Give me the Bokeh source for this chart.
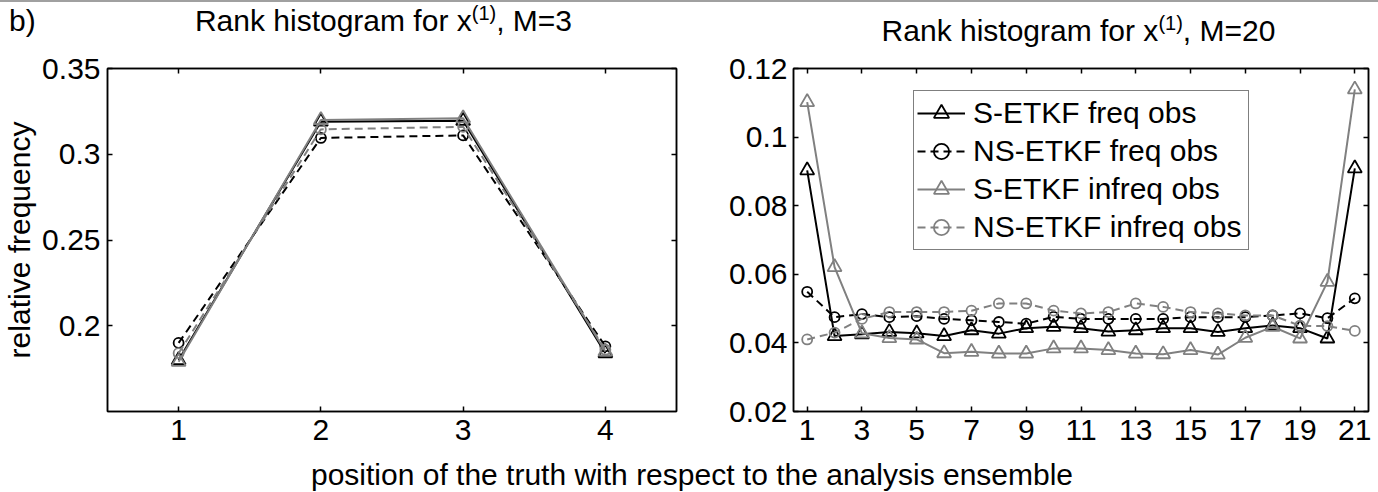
from bokeh.plotting import figure
from bokeh.models import Range1d, FixedTicker, LinearAxis, Div
from bokeh.layouts import column, row
from bokeh.embed import file_html
from bokeh.resources import INLINE

# ---------------- data ----------------
x_m3 = [1, 2, 3, 4]
m3_s_freq = [0.180, 0.319, 0.3195, 0.184]
m3_ns_freq = [0.190, 0.3095, 0.311, 0.188]
m3_s_infreq = [0.179, 0.320, 0.321, 0.185]
m3_ns_infreq = [0.184, 0.3145, 0.316, 0.186]

x_m20 = list(range(1, 22))
m20_s_freq = [0.0903, 0.0420, 0.0425, 0.0432, 0.0428, 0.0420, 0.0437, 0.0427, 0.0443, 0.0447, 0.0443,
              0.0433, 0.0437, 0.0443, 0.0443, 0.0432, 0.0443, 0.0451, 0.0443, 0.0413, 0.0909]
m20_ns_freq = [0.0549, 0.0475, 0.0484, 0.0475, 0.0478, 0.0470, 0.0466, 0.0461, 0.0456, 0.0476, 0.0470,
               0.0470, 0.0470, 0.0470, 0.0475, 0.0475, 0.0475, 0.0480, 0.0486, 0.0472, 0.0530]
m20_s_infreq = [0.1102, 0.0621, 0.0428, 0.0414, 0.0410, 0.0370, 0.0374, 0.0369, 0.0369, 0.0384, 0.0384,
                0.0379, 0.0369, 0.0367, 0.0379, 0.0366, 0.0415, 0.0447, 0.0413, 0.0578, 0.1139]
m20_ns_infreq = [0.0410, 0.0430, 0.0470, 0.0490, 0.0490, 0.0490, 0.0494, 0.0515, 0.0515, 0.0494, 0.0486,
                 0.0490, 0.0515, 0.0505, 0.0490, 0.0486, 0.0480, 0.0480, 0.0450, 0.0449, 0.0435]

series_labels = ["S-ETKF freq obs", "NS-ETKF freq obs", "S-ETKF infreq obs", "NS-ETKF infreq obs"]

m3_xticks = [1, 2, 3, 4]
m3_yticks = [0.2, 0.25, 0.3, 0.35]
m3_ytick_labels = ["0.2", "0.25", "0.3", "0.35"]
m20_xticks = [1, 3, 5, 7, 9, 11, 13, 15, 17, 19, 21]
m20_yticks = [0.02, 0.04, 0.06, 0.08, 0.1, 0.12]
m20_ytick_labels = ["0.02", "0.04", "0.06", "0.08", "0.1", "0.12"]

panel_tag = "b)"
title_main = "Rank histogram for x"
title_sup = "(1)"
title_tail_m3 = ", M=3"
title_tail_m20 = ", M=20"
xlabel_text = "position of the truth with respect to the analysis ensemble"
ylabel_text = "relative frequency"

# ---------------- style ----------------
FONT = "Liberation Sans"
FS = "30px"
BLACK = "#000000"
GRAY = "#808080"
styles = [
    dict(color=BLACK, dash="solid", marker="triangle", size=14),
    dict(color=BLACK, dash="8 5", marker="circle", size=10),
    dict(color=GRAY, dash="solid", marker="triangle", size=14),
    dict(color=GRAY, dash="8 5", marker="circle", size=10),
]

TOP_H = 50
FIG_H = 410
BOT_H = 32


def style_axis(ax, ticks, labels=None, show=True):
    ax.ticker = FixedTicker(ticks=ticks)
    ax.major_tick_in = 5
    ax.major_tick_out = 0
    ax.minor_tick_in = 0
    ax.minor_tick_out = 0
    ax.axis_line_color = BLACK
    ax.axis_line_width = 1.5
    ax.major_tick_line_color = BLACK
    ax.major_tick_line_width = 1.5
    ax.major_label_text_font = FONT
    ax.major_label_text_color = BLACK
    if show:
        ax.major_label_text_font_size = FS
        if labels is not None:
            ax.major_label_overrides = {t: l for t, l in zip(ticks, labels)}
    else:
        ax.major_label_text_font_size = "10px"
        ax.major_label_overrides = {t: "" for t in ticks}
        ax.major_label_standoff = 0


def make_fig(width, xr, yr, borders):
    p = figure(width=width, height=FIG_H, x_range=Range1d(*xr), y_range=Range1d(*yr),
               output_backend="svg", toolbar_location=None,
               min_border_left=borders[0], min_border_right=borders[1],
               min_border_top=borders[2], min_border_bottom=borders[3])
    p.xgrid.visible = False
    p.ygrid.visible = False
    p.outline_line_color = BLACK
    p.outline_line_width = 1.5
    p.outline_line_alpha = 1.0
    p.background_fill_color = "white"
    p.border_fill_color = "white"
    return p


def add_series(p, x, ys, with_legend):
    for y, st, lab in zip(ys, styles, series_labels):
        kw = dict(legend_label=lab) if with_legend else {}
        p.line(x, y, line_color=st["color"], line_width=2, line_dash=st["dash"], **kw)
        p.scatter(x, y, marker=st["marker"], size=st["size"], line_color=st["color"],
                  line_width=1.8, fill_color=None, **kw)


# ---------------- left plot (M=3) ----------------
# page frame: left 105, right 676, top 66, bottom 420
p1 = make_fig(700, (0.5, 4.5), (0.15, 0.35), (105, 24, 66 - TOP_H, TOP_H + FIG_H - 420))
add_series(p1, x_m3, [m3_s_freq, m3_ns_freq, m3_s_infreq, m3_ns_infreq], False)
style_axis(p1.xaxis[0], m3_xticks)
p1.xaxis[0].major_label_standoff = 8
style_axis(p1.yaxis[0], m3_yticks, m3_ytick_labels)
p1.yaxis[0].major_label_standoff = 7
p1.yaxis[0].axis_label = ylabel_text
p1.yaxis[0].axis_label_text_font = FONT
p1.yaxis[0].axis_label_text_font_size = FS
p1.yaxis[0].axis_label_text_font_style = "normal"
p1.yaxis[0].axis_label_text_color = BLACK
p1.yaxis[0].axis_label_standoff = 3
ax_r1 = LinearAxis()
style_axis(ax_r1, m3_yticks, show=False)
p1.add_layout(ax_r1, "right")
ax_t1 = LinearAxis()
style_axis(ax_t1, m3_xticks, show=False)
p1.add_layout(ax_t1, "above")

# ---------------- right plot (M=20) ----------------
# page frame: left 793, right 1368, top 68, bottom 411
p2 = make_fig(678, (0.5, 21.5), (0.02, 0.12), (93, 10, 68 - TOP_H, TOP_H + FIG_H - 411))
add_series(p2, x_m20, [m20_s_freq, m20_ns_freq, m20_s_infreq, m20_ns_infreq], True)
style_axis(p2.xaxis[0], m20_xticks)
p2.xaxis[0].major_label_standoff = 8
style_axis(p2.yaxis[0], m20_yticks, m20_ytick_labels)
p2.yaxis[0].major_label_standoff = 6
ax_r2 = LinearAxis()
style_axis(ax_r2, m20_yticks, show=False)
p2.add_layout(ax_r2, "right")
ax_t2 = LinearAxis()
style_axis(ax_t2, m20_xticks, show=False)
p2.add_layout(ax_t2, "above")

leg = p2.legend[0]
# legend box (page): left 913, bottom 250
leg.location = (913 - 793, 411 - 250)
leg.label_text_font = FONT
leg.label_text_font_size = FS
leg.label_text_color = BLACK
leg.glyph_width = 48
leg.glyph_height = 38
leg.label_height = 38
leg.label_width = 272
leg.label_standoff = 8
leg.spacing = 0
leg.padding = 3
leg.margin = 0
leg.border_line_color = BLACK
leg.border_line_width = 1.5
leg.background_fill_color = "white"
leg.background_fill_alpha = 1.0

# ---------------- page texts ----------------
SUP = ('<span style="font-size:20px;vertical-align:11px;line-height:0">%s</span>' % title_sup)


def abs_text(left, top, width, html, align="left"):
    return ('<div style="position:absolute;left:%dpx;top:%dpx;width:%dpx;height:30px;'
            'line-height:30px;white-space:nowrap;text-align:%s;">%s</div>'
            % (left, top, width, align, html))


top_html = (
    '<div style="position:relative;width:1378px;height:%dpx;font-family:\'%s\';'
    'font-size:30px;color:#000;">' % (TOP_H, FONT)
    + '<div style="position:absolute;left:0;top:0;width:1378px;height:2px;background:#a0a0a0;"></div>'
    + abs_text(9, 6, 60, panel_tag)
    + abs_text(98, 6, 571, title_main + SUP + title_tail_m3, "center")
    + abs_text(791, 16, 575, title_main + SUP + title_tail_m20, "center")
    + '</div>'
)
top_div = Div(text=top_html, width=1378, height=TOP_H, margin=0)

xlabel_div = Div(text=xlabel_text, width=1378, height=BOT_H, margin=0,
                 styles={"font-family": FONT, "font-size": FS, "line-height": "30px",
                         "text-align": "center", "color": "black", "width": "1378px",
                         "padding-left": "6px", "box-sizing": "border-box"})

layout = column(top_div, row(p1, p2, spacing=0), xlabel_div, spacing=0)

open("out.html", "w").write(file_html(layout, INLINE))
